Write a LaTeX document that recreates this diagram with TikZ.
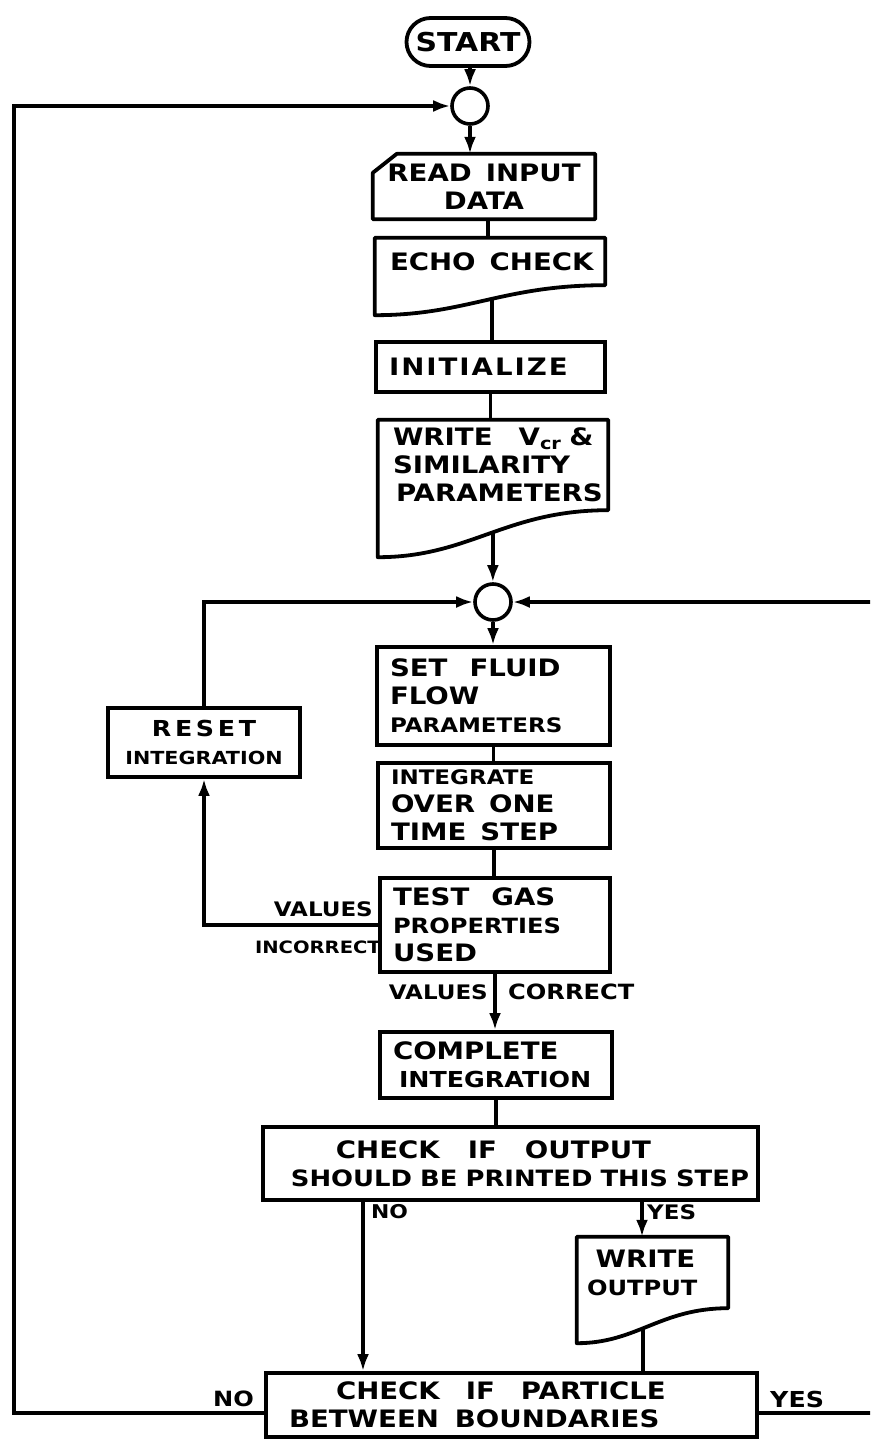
\documentclass[tikz,border=0pt]{standalone}
\usepackage{fontspec}
\newfontfamily\lettering{DejaVu Sans Bold}[FakeStretch=1.15]
\usetikzlibrary{arrows.meta,calc,shapes.misc}
\newcommand\fs[1]{\fontsize{#1}{28}\selectfont}
% one unbreakable line of lettering
\newcommand\lline[1]{\mbox{#1}}
% document symbol: flat top, wavy bottom; #1 node, #2 drop at left,
% #3/#4 control offsets, #5 curve parameter of the outgoing point
\newcommand\docoutline[5]{%
  \draw[outline] (#1.south east) -- (#1.north east) -- (#1.north west)
    -- ($(#1.south west)+(0,#2)$)
    .. controls ($(#1.south west)+(#3,#2)$) and ($(#1.south east)+(-#4,0)$) .. (#1.south east)
    coordinate[pos=#5] (#1-out);}
\tikzset{
  outline/.style={draw, line width=3.8pt, line join=round, line cap=round},
  box/.style={rectangle, draw, line width=3.8pt, inner ysep=0pt, inner xsep=13pt, font=\lettering\fs{24}},
  docbox/.style={rectangle, draw=none, inner ysep=0pt, inner xsep=13pt, font=\lettering\fs{24}},
  flow/.style={line width=3.4pt},
  flowarrow/.style={line width=3.4pt, -{Latex[length=17pt,width=12pt]}},
  joint/.style={circle, draw, line width=3.6pt, minimum size=36pt, inner sep=0pt},
  terminal/.style={rounded rectangle, draw, line width=3.8pt, minimum width=123pt,
    minimum height=48pt, inner sep=0pt, font=\lettering\fs{26}},
  lbl/.style={inner sep=0pt, font=\lettering\fs{20}},
}
\begin{document}
\begin{tikzpicture}[x=1pt,y=-1pt]
\clip (0,0) rectangle (870,1439);
\fill[white] (0,0) rectangle (870,1439);

% ---- main column ----
\node[terminal] (start) at (468,42) {START};
\node[joint] (j1) at (470,106) {};
\node[docbox, minimum width=222pt, minimum height=65pt, inner xsep=0pt, align=center]
  (read) at (484,186.5) {READ\hspace{14pt}INPUT\\DATA};
\draw[outline] (read.south west) -- ($(read.north west)+(0,19)$) -- ($(read.north west)+(24,0)$)
  -- (read.north east) -- (read.south east) -- cycle;

\node[docbox, minimum width=230pt, minimum height=47pt, text width=210pt, inner xsep=10pt, align=left]
  (echo) at (490,261.5) {\lline{\hspace*{5pt}ECHO\hspace{14pt}CHECK}};
\docoutline{echo}{30}{92}{103}{0.53}

\node[box, minimum width=229pt, minimum height=50pt, text width=203pt, align=left, inner xsep=11pt]
  (init) at (490.5,367) {\lline{I\kern2pt N\kern2pt I\kern2pt T\kern2pt I\kern2pt A\kern2pt L\kern2pt I\kern2pt Z\kern2pt E}};

\node[docbox, minimum width=230pt, minimum height=90pt, text width=210pt, inner xsep=10pt, align=left]
  (write) at (493,465) {\lline{\hspace*{5pt}WRITE\hspace{26pt}V\textsubscript{cr}\ \&}\\
    \lline{\hspace*{5pt}SIMILARITY}\\\lline{\hspace*{8pt}PARAMETERS}};
\docoutline{write}{47}{92}{103}{0.52}

\node[joint] (j2) at (493,602) {};

\node[box, minimum width=233pt, minimum height=98pt, text width=207pt, align=left]
  (setf) at (493.5,696) {\lline{SET\hspace{22pt}FLUID}\\FLOW\\\lline{\fs{20}PARAMETERS}};
\node[box, minimum width=232pt, minimum height=85pt, text width=206pt, align=left]
  (integ) at (494,805.5) {\lline{\fs{20}INTEGRATE}\\\lline{OVER\hspace{14pt}ONE}\\\lline{TIME\hspace{14pt}STEP}};
\node[box, minimum width=230pt, minimum height=94pt, text width=204pt, align=left]
  (test) at (495,925) {\lline{TEST\hspace{22pt}GAS}\\\lline{\fs{21}PROPERTIES}\\USED};
\node[box, minimum width=232pt, minimum height=66pt, text width=206pt, align=left]
  (compl) at (496,1065) {COMPLETE\\\lline{\hspace*{6pt}\fs{22}INTEGRATION}};
\node[box, minimum width=495pt, minimum height=73pt, text width=495pt, inner xsep=0pt, align=center]
  (chkout) at (510.5,1163.5) {\lline{CHECK\hspace{28pt}IF\hspace{28pt}OUTPUT\kern34pt}\\
    \lline{\hspace*{19pt}\fs{22.5}SHOULD BE PRINTED THIS STEP}};
\node[docbox, minimum width=151pt, minimum height=71pt, text width=131pt, inner xsep=10pt, align=center]
  (wout) at (652.5,1272.5) {\lline{WRITE\kern14pt}\\\lline{\fs{21}OUTPUT\kern30pt}};
\docoutline{wout}{35}{60}{68}{0.45}
\node[box, minimum width=491pt, minimum height=64pt, text width=451pt, inner xsep=20pt, align=left]
  (part) at (511.5,1405) {\lline{\hspace*{50pt}CHECK\hspace{26pt}IF\hspace{26pt}PARTICLE}\\
    \lline{\hspace*{3pt}BETWEEN\hspace{16pt}BOUNDARIES}};

\node[box, minimum width=192pt, minimum height=69pt, text width=172pt, inner xsep=10pt, align=center]
  (reset) at (204,742.5) {\lline{\fs{22}R\,E\,S\,E\,T}\\\lline{\fs{18}INTEGRATION}};

% ---- connector helpers ----
\coordinate (rx) at (488,0);
\coordinate (nox) at (363,0);
\coordinate (yesx) at (642,0);
\coordinate (lp) at (14,1413);
\coordinate (rp) at (900,1413);

% ---- connectors ----
\draw[flowarrow] (start.south -| j1) -- (j1.north);
\draw[flowarrow] (j1.south) -- (j1.south |- read.north);
\draw[flow] (read.south -| rx) -- (echo.north -| rx);
\draw[flow] (echo-out) -- (echo-out |- init.north);
\draw[flow] (init.south) -- (init.south |- write.north);
\draw[flowarrow] (write-out) -- (write-out |- j2.north);
\draw[flowarrow] (j2.south) -- (j2.south |- setf.north);
\draw[flow] (setf.south) -- (setf.south |- integ.north);
\draw[flow] (integ.south) -- (integ.south |- test.north);
\draw[flowarrow] (test.south) -- (test.south |- compl.north);
\draw[flow] (compl.south) -- (compl.south |- chkout.north);
\draw[flowarrow] (chkout.south -| nox) -- (part.north -| nox);
\draw[flowarrow] (chkout.south -| yesx) -- (wout.north -| yesx);
\draw[flow] (wout-out) -- (wout-out |- part.north);
\draw[flowarrow] (test.west) -| (reset.south);
\draw[flowarrow] (reset.north) |- (j2.west);
\draw[flowarrow] (lp -| part.west) -- (lp) |- (j1.west);
\draw[flowarrow] (rp -| part.east) -- (rp) |- (j2.east);

% ---- branch labels ----
\node[lbl, anchor=east] (vinc) at (373,909) {VALUES};
\node[lbl, anchor=east, font=\lettering\fs{17}] (inc) at (381,947) {INCORRECT};
\node[lbl, anchor=east] (vcor) at (488,992) {VALUES};
\node[lbl, anchor=west, font=\lettering\fs{21}] (cor) at (508,992) {CORRECT};
\node[lbl, anchor=west, font=\lettering\fs{19}] (no1) at (371,1212) {NO};
\node[lbl, anchor=west, font=\lettering\fs{20}] (yes1) at (647,1212) {YES};
\node[lbl, anchor=east, font=\lettering\fs{21}] (no2) at (254,1399) {NO};
\node[lbl, anchor=west, font=\lettering\fs{22}] (yes2) at (770,1399) {YES};
\end{tikzpicture}
\end{document}
